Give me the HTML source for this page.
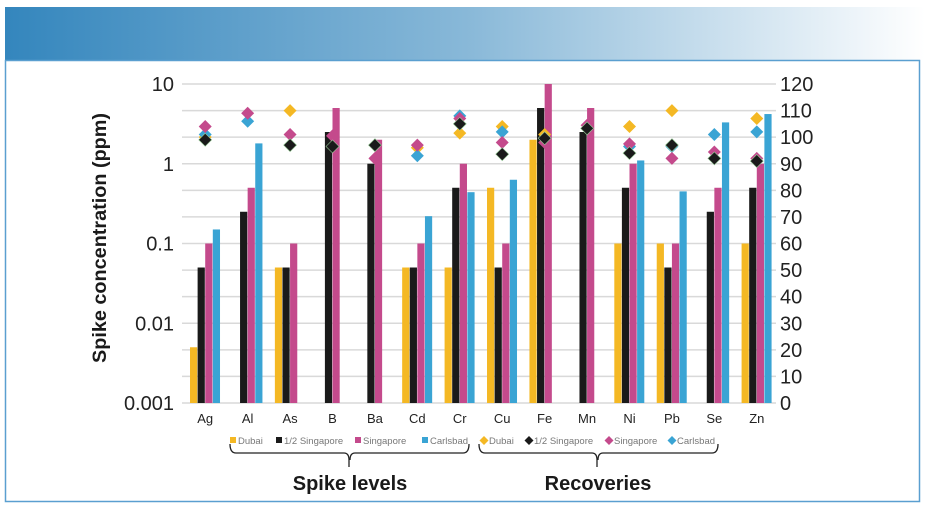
<!DOCTYPE html>
<html><head><meta charset="utf-8"><style>
body{margin:0;background:#fff;width:934px;height:514px;overflow:hidden;font-family:"Liberation Sans",sans-serif}
</style></head><body>
<svg id="chart" width="934" height="514" xmlns="http://www.w3.org/2000/svg">
<defs><linearGradient id="hg" x1="0" x2="1" y1="0" y2="0"><stop offset="0" stop-color="#3486bd"/><stop offset="0.5" stop-color="#88b8d8"/><stop offset="1" stop-color="#ffffff"/></linearGradient></defs>
<rect x="5" y="7" width="920" height="53" fill="url(#hg)"/>
<rect x="5.5" y="60.5" width="914" height="441" fill="none" stroke="#5a9fd0" stroke-width="1.5"/>
<g id="grid"></g><g id="bars"></g><g id="pts"></g><g id="axes"></g>
<text x="0" y="0" transform="translate(106,238) rotate(-90)" text-anchor="middle" font-size="19" font-weight="bold" fill="#1a1a1a" textLength="250" lengthAdjust="spacingAndGlyphs">Spike concentration (ppm)</text>
<g id="legend" font-size="9" fill="#777"></g>
<path d="M230,444 q0,9 6,9 H344 q5,0 5,7 v7 M469,444 q0,9 -6,9 H355 q-5,0 -5,7" fill="none" stroke="#222" stroke-width="1.3"/>
<path d="M479,444 q0,9 6,9 H592 q5,0 5,7 v7 M718,444 q0,9 -6,9 H603 q-5,0 -5,7" fill="none" stroke="#222" stroke-width="1.3"/>
<text x="350" y="490" text-anchor="middle" font-size="20" font-weight="bold" fill="#1a1a1a">Spike levels</text>
<text x="598" y="490" text-anchor="middle" font-size="20" font-weight="bold" fill="#1a1a1a">Recoveries</text>
</svg>
<script>
const categories=["Ag","Al","As","B","Ba","Cd","Cr","Cu","Fe","Mn","Ni","Pb","Se","Zn"];
const spikeDubai=[0.005,null,0.05,null,null,0.05,0.05,0.5,2,null,0.1,0.1,null,0.1];
const spikeHalfSing=[0.05,0.25,0.05,2.5,1,0.05,0.5,0.05,5,2.5,0.5,0.05,0.25,0.5];
const spikeSing=[0.1,0.5,0.1,5,2,0.1,1,0.1,10,5,1,0.1,0.5,1];
const spikeCarlsbad=[0.15,1.8,null,null,null,0.22,0.44,0.63,null,null,1.1,0.45,3.3,4.2];
const recDubai=[100,null,110,null,null,96,101.5,104,101,null,104,110,null,107];
const recHalfSing=[99,null,97,96.5,97,null,105,93.6,99.6,103.3,94,97,92,91];
const recSing=[104,109,101,100.5,92,97,107,98,98,104.5,97.5,92,94.4,92];
const recCarlsbad=[101,106,null,null,null,93,108,102,null,null,96.5,96.5,101,102];
const leftTicks=["0.001","0.01","0.1","1","10"];
const rightTicks=[0,10,20,30,40,50,60,70,80,90,100,110,120];
const NS="http://www.w3.org/2000/svg";
const X0=182,X1=776,YT=84,YB=403;
const colors=["#f4b824","#1a1a1a","#c44a8c","#3aa4d4"];
function yLog(v){return YB-(Math.log10(v)+3)/4*(YB-YT);}
function yLin(v){return YB-v/120*(YB-YT);}
const bw=(X1-X0)/categories.length;
function xc(i){return X0+bw*(i+0.5);}
function mk(tag,attrs,parent){const e=document.createElementNS(NS,tag);for(const k in attrs)e.setAttribute(k,attrs[k]);document.getElementById(parent).appendChild(e);return e;}
rightTicks.forEach(t=>{const y=yLin(t);
 const l=mk("line",{x1:X0,x2:X1,y1:y,y2:y,stroke:"#d9d9d9","stroke-width":1.5},"grid");
 
 
 const tx=mk("text",{x:780,y:y+7,"font-size":20,fill:"#222"},"axes");tx.textContent=t;
 
 });
leftTicks.forEach(t=>{const y=yLog(parseFloat(t));
 const tx=mk("text",{x:174,y:y+7,"font-size":20,fill:"#222","text-anchor":"end"},"axes");tx.textContent=t;
 
 });
const spikes=[spikeDubai,spikeHalfSing,spikeSing,spikeCarlsbad];
const recs=[recDubai,recHalfSing,recSing,recCarlsbad];
const barW=7.6;
categories.forEach((c,i)=>{
 const tx=mk("text",{x:xc(i)+2,y:423,"font-size":13,fill:"#222","text-anchor":"middle"},"axes");tx.textContent=c;
 
 
 spikes.forEach((s,k)=>{const v=s[i];if(v==null)return;const y=yLog(v);
  const r=mk("rect",{x:xc(i)+2-2*barW+k*barW,y:y,width:barW-0.4,height:YB-y,fill:colors[k]},"bars");
  
  });
});
[0,3,2,1].forEach(k=>{const s=recs[k];categories.forEach((c,i)=>{const v=s[i];if(v==null)return;const y=yLin(v);const x=xc(i)+2;
 const p=mk("polygon",{points:`${x},${y-6.5} ${x+6.5},${y} ${x},${y+6.5} ${x-6.5},${y}`,fill:colors[k],stroke:k==1?"#9c9":"none","stroke-width":0.6},"pts");
 
 });});
const leg=[["sq",0,233,"Dubai"],["sq",1,279,"1/2 Singapore"],["sq",2,358,"Singapore"],["sq",3,425,"Carlsbad"],["dm",0,484,"Dubai"],["dm",1,529,"1/2 Singapore"],["dm",2,609,"Singapore"],["dm",3,672,"Carlsbad"]];
leg.forEach(([t,k,x,l])=>{
 let m;if(t=="sq")m=mk("rect",{x:x-3,y:437,width:6,height:6,fill:colors[k]},"legend");
 else m=mk("polygon",{points:`${x},${436} ${x+4.5},${440.5} ${x},${445} ${x-4.5},${440.5}`,fill:colors[k]},"legend");
 
 
 const tx=mk("text",{x:x+5,y:444,"font-size":9.5,fill:"#777"},"legend");tx.textContent=l;
 
 });
</script>
</body></html>
